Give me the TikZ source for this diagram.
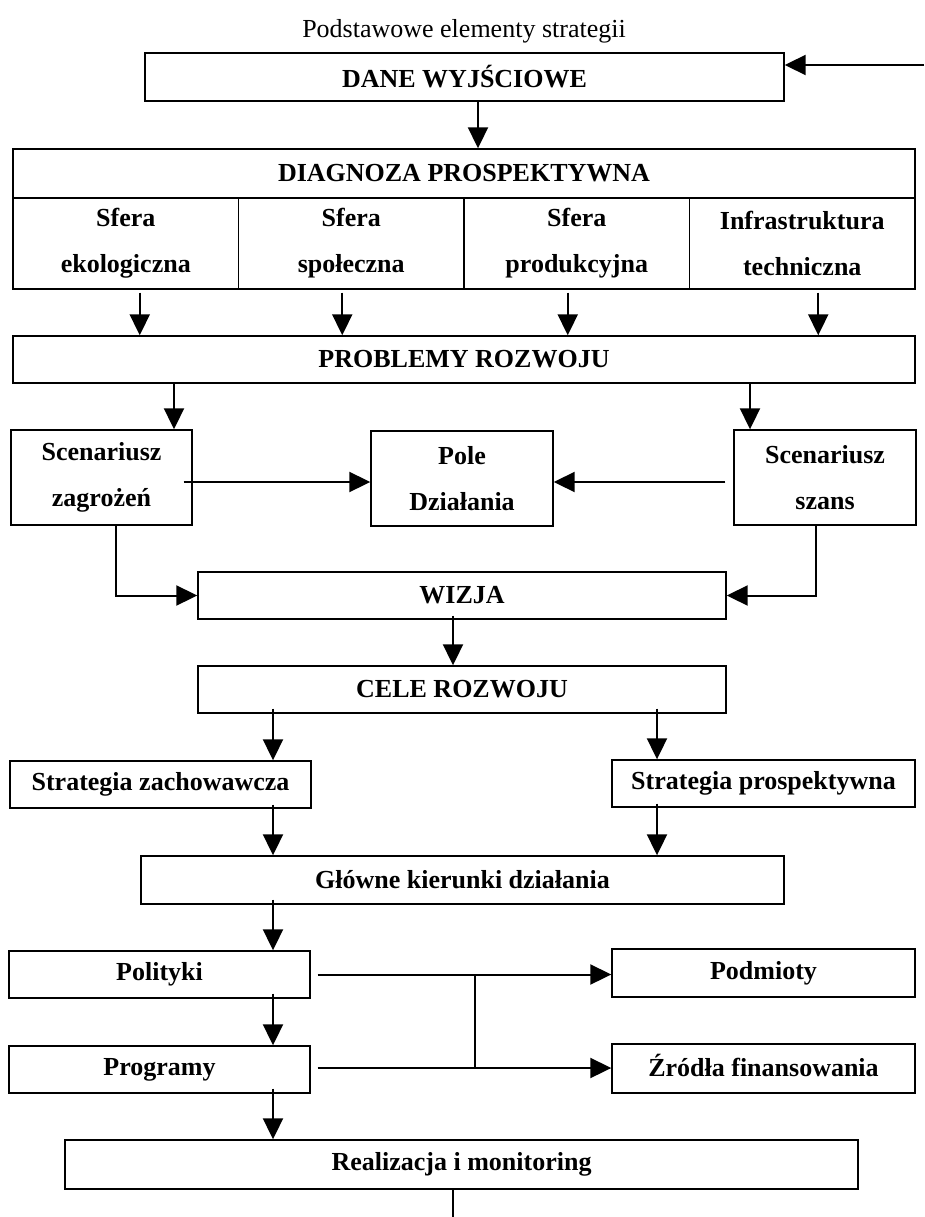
\documentclass[tikz,border=0pt]{standalone}
\usepackage{fontspec}
\setmainfont{Liberation Serif}
\usetikzlibrary{arrows.meta,positioning,calc}

\begin{document}
\begin{tikzpicture}[x=1pt,y=-1pt,
    blok/.style={draw,line width=1.4pt,inner sep=0pt,align=center,
                 font=\fontsize{26}{46}\selectfont\bfseries},
    strz/.style={-{Triangle[length=21pt,width=20pt]},line width=2pt},
    linia/.style={line width=2pt}]
  \useasboundingbox (0,0) rectangle (924,1217);
  % Tytul
  \node[font=\fontsize{26}{30}\selectfont] (tytul) at (464,31)
    {Podstawowe elementy strategii};

  % Gora
  \node[blok,minimum width=639pt,minimum height=48pt] (dane) at (464.5,77)
    {DANE WYJŚCIOWE};
  \node[blok,minimum width=902pt,minimum height=49pt] (diag) at (464,173.5)
    {DIAGNOZA PROSPEKTYWNA};
  \foreach \nazwa/\x/\tekst in {s1/125.75/{Sfera\\ekologiczna},
      s2/351.25/{Sfera\\społeczna}, s3/576.75/{Sfera\\produkcyjna},
      s4/802.25/{Infrastruktura\\techniczna}}{
    \node[blok,minimum width=225.5pt,minimum height=91pt] (\nazwa) at (\x,243.5)
      {\tekst};
  }
  \node[blok,minimum width=902pt,minimum height=47pt] (prob) at (464,359.5)
    {PROBLEMY ROZWOJU};

  % Scenariusze
  \node[blok,minimum width=181pt,minimum height=95pt] (zag) at (101.5,477.5)
    {Scenariusz\\zagrożeń};
  \node[blok,minimum width=182pt,minimum height=95pt] (pole) at (462,478.5)
    {Pole\\Działania};
  \node[blok,minimum width=182pt,minimum height=95pt] (szans) at (825,477.5)
    {Scenariusz\\szans};
  \node[blok,minimum width=528pt,minimum height=47pt] (wizja) at (462,595.5)
    {WIZJA};
  \node[blok,minimum width=528pt,minimum height=47pt] (cele) at (462,689.5)
    {CELE ROZWOJU};

  % Strategie
  \node[blok,minimum width=301pt,minimum height=47pt] (zach) at (160.5,784.5)
    {Strategia zachowawcza};
  \node[blok,minimum width=303pt,minimum height=47pt] (prosp) at (763.5,783.5)
    {Strategia prospektywna};
  \node[blok,minimum width=643pt,minimum height=48pt] (glowne) at (462.5,880)
    {Główne kierunki działania};

  % Dol
  \node[blok,minimum width=301pt,minimum height=47pt] (polit) at (159.5,974.5)
    {Polityki};
  \node[blok,minimum width=303pt,minimum height=48pt] (podm) at (763.5,973)
    {Podmioty};
  \node[blok,minimum width=301pt,minimum height=47pt] (progr) at (159.5,1069.5)
    {Programy};
  \node[blok,minimum width=303pt,minimum height=49pt,text height=17pt] (zrodla)
    at (763.5,1068.5) {Źródła finansowania};
  \node[blok,minimum width=793pt,minimum height=49pt] (real) at (461.5,1164.5)
    {Realizacja i monitoring};

  \coordinate (powrot) at (924,65);
  \coordinate (wyjscie) at (453,1217);
  \coordinate (wezel1) at (475,974);
  \coordinate (wezel2) at (475,1068);

  % Strzalki
  \draw[strz] (powrot) -- (powrot -| dane.east);
  \draw[strz] ([xshift=13.5pt]dane.south) -- ([xshift=13.5pt]dane.south |- diag.north);
  \foreach \nazwa/\dx in {s1/14, s2/-9, s3/-9, s4/16}{
    \draw[strz] ([xshift=\dx pt,yshift=-3pt]\nazwa.south)
      -- ([xshift=\dx pt]\nazwa.south |- prob.north);
  }
  \draw[strz] ([xshift=72.5pt]zag.north |- prob.south) -- ([xshift=72.5pt]zag.north);
  \draw[strz] ([xshift=-75pt]szans.north |- prob.south) -- ([xshift=-75pt]szans.north);
  \draw[strz] ([xshift=-9pt,yshift=-4.5pt]zag.east) -- ([yshift=-3.5pt]pole.west);
  \draw[strz] ([xshift=-8pt,yshift=-4.5pt]szans.west) -- ([yshift=-3.5pt]pole.east);
  \draw[strz] ([xshift=14.5pt]zag.south) |- (wizja.west);
  \draw[strz] ([xshift=-9pt]szans.south) |- (wizja.east);
  \draw[strz] ([xshift=-9pt,yshift=4pt]wizja.south) -- ([xshift=-9pt]cele.north);
  \draw[strz] ([xshift=112.5pt,yshift=5pt]zach.north |- cele.south) -- ([xshift=112.5pt]zach.north);
  \draw[strz] ([xshift=-106.5pt,yshift=5pt]prosp.north |- cele.south) -- ([xshift=-106.5pt]prosp.north);
  \draw[strz] ([xshift=112.5pt,yshift=4pt]zach.south) -- ([xshift=112.5pt]zach.south |- glowne.north);
  \draw[strz] ([xshift=-106.5pt,yshift=4pt]prosp.south) -- ([xshift=-106.5pt]prosp.south |- glowne.north);
  \draw[strz] ([xshift=113.5pt,yshift=5pt]polit.north |- glowne.south) -- ([xshift=113.5pt]polit.north);
  \draw[strz] ([xshift=113.5pt,yshift=5pt]polit.south) -- ([xshift=113.5pt]progr.north);
  \draw[strz] ([xshift=113.5pt,yshift=5pt]progr.south) -- ([xshift=113.5pt]progr.south |- real.north);
  \draw[strz] ([xshift=7pt]polit.east) -- (polit.east -| podm.west);
  \draw[strz] ([xshift=7pt,yshift=1.5pt]progr.east) -- ([yshift=1.5pt]progr.east -| zrodla.west);
  \draw[linia] (wezel1) -- (wezel2);
  \draw[linia] (real.south -| wyjscie) -- (wyjscie);
\end{tikzpicture}
\end{document}
